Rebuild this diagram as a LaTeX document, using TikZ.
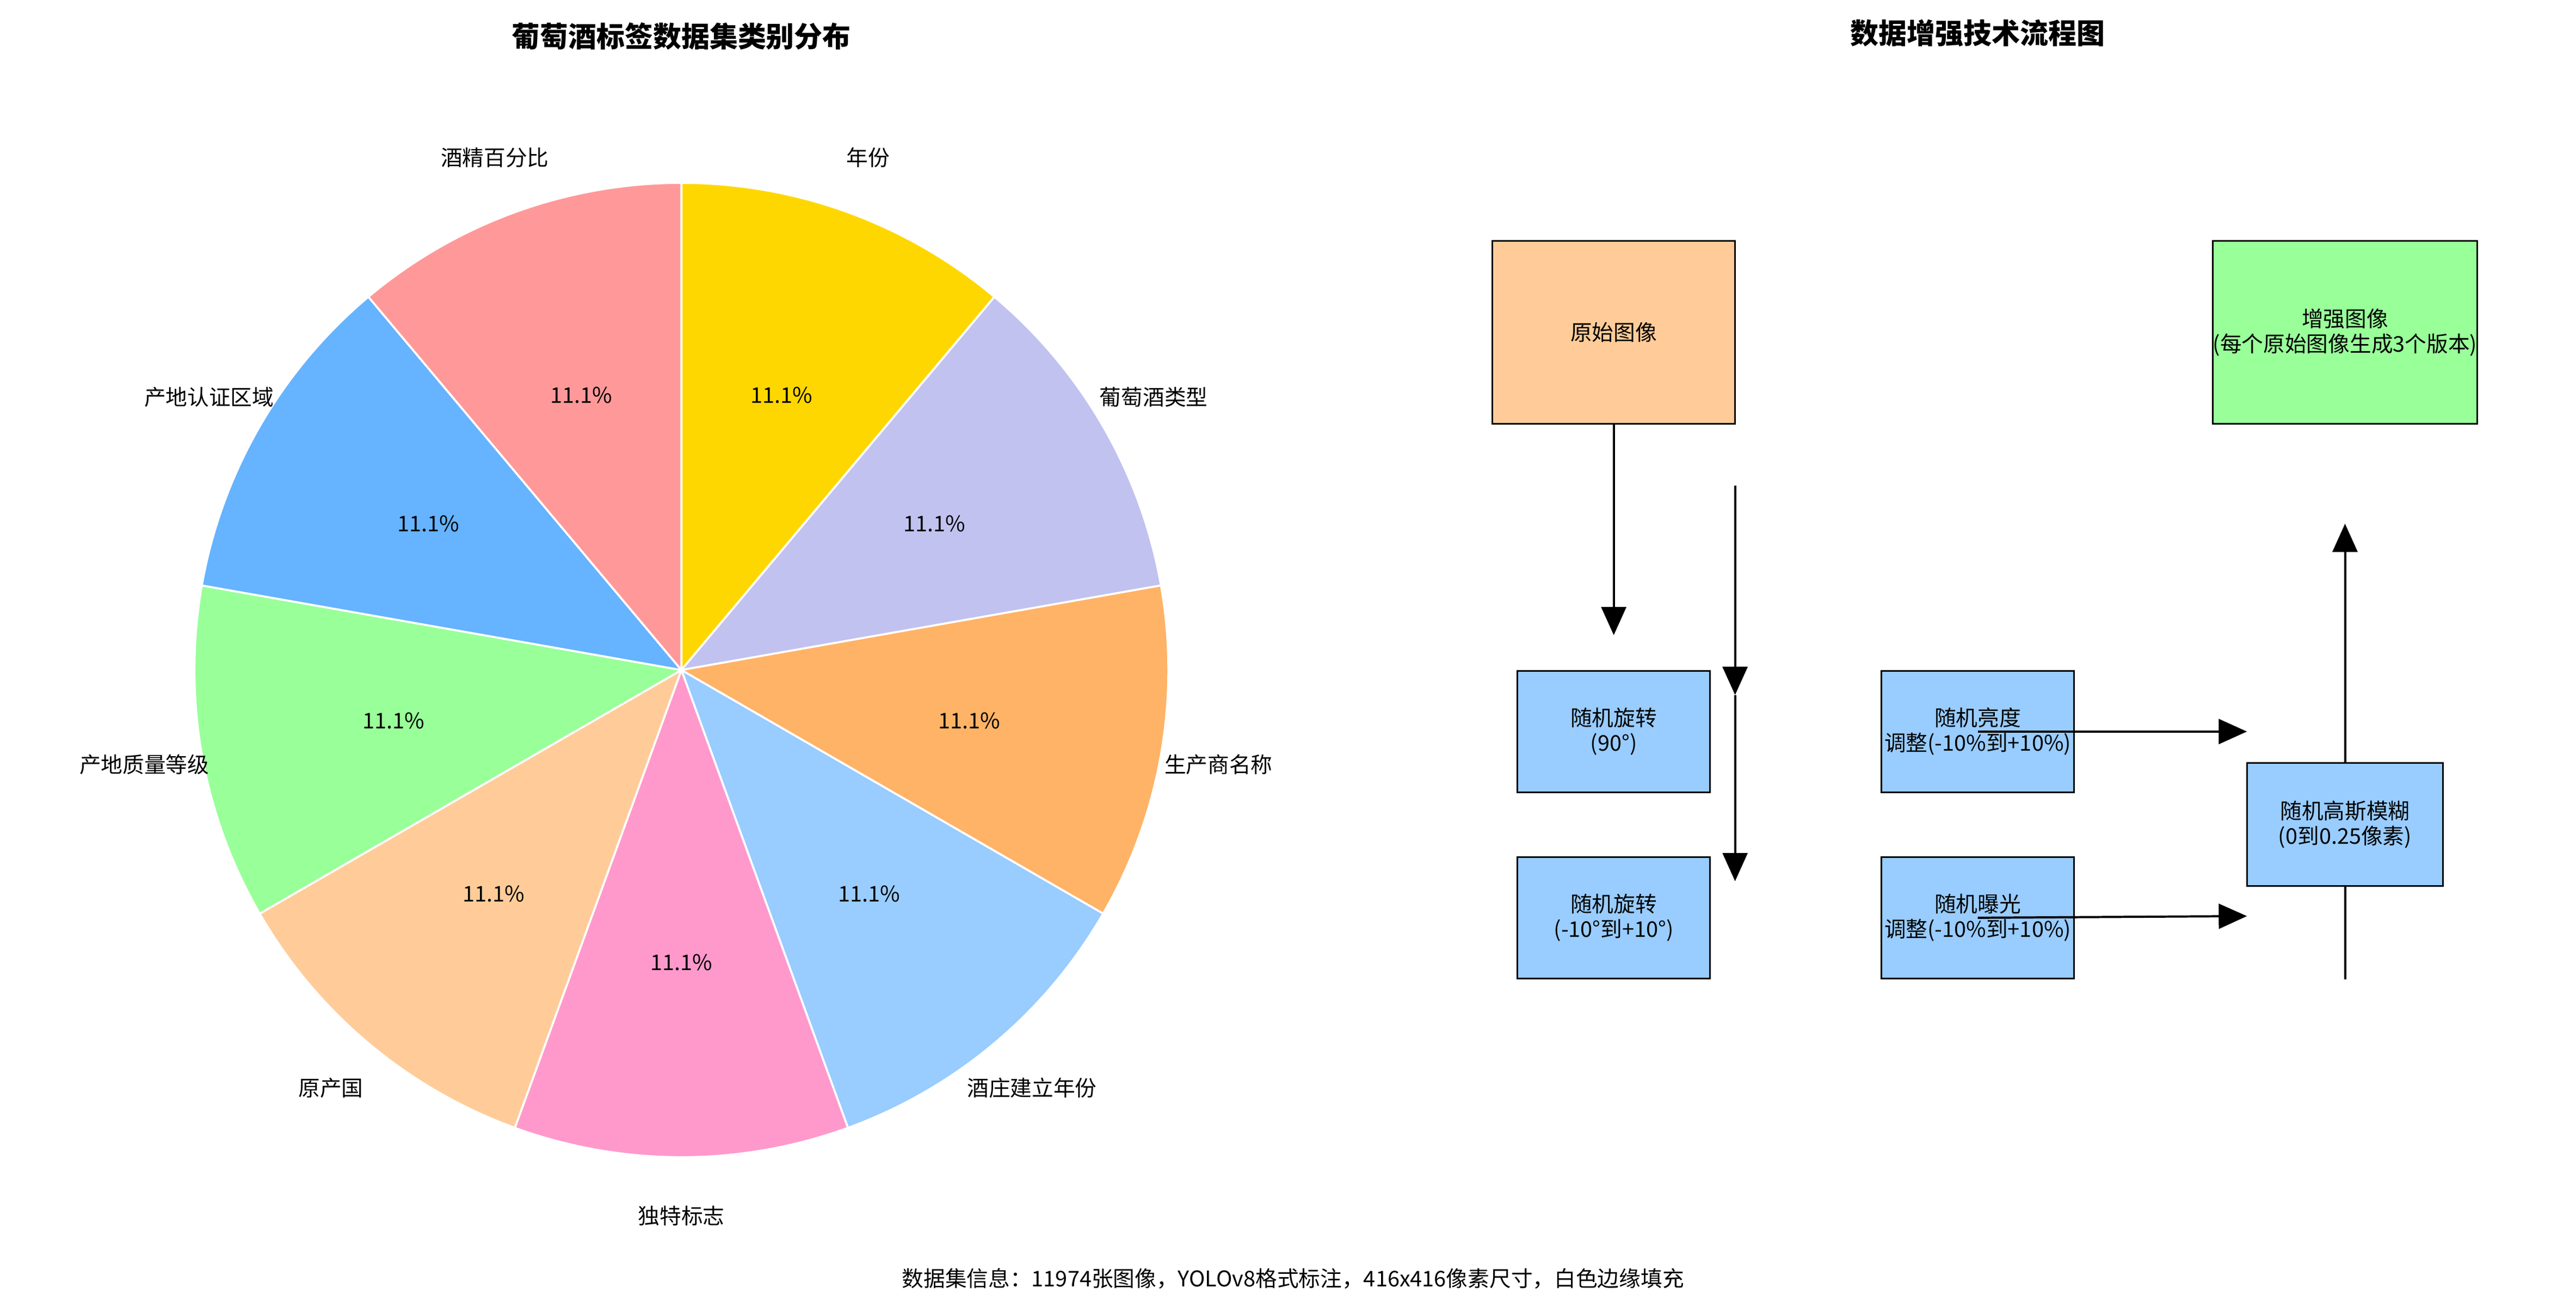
\documentclass[tikz,border=0pt]{standalone}
\usepackage{fontspec}
\setmainfont{Noto Sans CJK SC}
\usetikzlibrary{arrows.meta,calc}
\definecolor{c1}{HTML}{FFD700}\definecolor{c2}{HTML}{C2C2F0}\definecolor{c3}{HTML}{FFB366}
\definecolor{c4}{HTML}{99CCFF}\definecolor{c5}{HTML}{FF99CC}\definecolor{c6}{HTML}{FFCC99}
\definecolor{c7}{HTML}{99FF99}\definecolor{c8}{HTML}{66B3FF}\definecolor{c9}{HTML}{FF9999}
\begin{document}
\begin{tikzpicture}[x=1pt,y=1pt,font=\fontsize{13}{15}\selectfont,
  box/.style={draw=black,line width=1pt,align=center,inner sep=0pt},
  arr/.style={line width=1.3pt,-{Triangle[length=17pt,width=15pt]}}]
\useasboundingbox[fill=white] (0,0) rectangle (1550,778);
\coordinate (c) at (410,375);
\def\R{293}
\foreach \col/\lab [count=\i] in {c1/年份,c2/葡萄酒类型,c3/生产商名称,c4/酒庄建立年份,c5/独特标志,c6/原产国,c7/产地质量等级,c8/产地认证区域,c9/酒精百分比}{
  \pgfmathsetmacro\s{90-40*(\i-1)}
  \pgfmathsetmacro\e{\s-40}
  \pgfmathsetmacro\m{\s-20}
  \filldraw[fill=\col,draw=white,line width=1.2pt] (c) -- ++(\s:\R) arc[start angle=\s,end angle=\e,radius=\R] -- cycle;
  \node (p\i) at ($(c)+(\m:0.6*\R)$) {11.1\%};
  \node (l\i) at ($(c)+(\m:1.12*\R)$) {\lab};
}
\node[font=\fontsize{17}{20}\selectfont\bfseries] (t1) at (410,756) {葡萄酒标签数据集类别分布};
\node[font=\fontsize{17}{20}\selectfont\bfseries] (t2) at (1190,758) {数据增强技术流程图};
\node (info) at (778,9) {数据集信息：11974张图像，YOLOv8格式标注，416x416像素尺寸，白色边缘填充};
% flow
\coordinate (v1) at (1411,189); \coordinate (v2) at (1411,463);
\draw[arr] (v1) -- (v2);
\node[box,fill=c6,minimum width=146pt,minimum height=110pt] (orig) at (971,578) {原始图像};
\node[box,fill=c7,minimum width=146pt,minimum height=110pt] (aug) at (1411,578) {增强图像\\(每个原始图像生成3个版本)};
\node[box,fill=c4,minimum width=116pt,minimum height=73pt] (r90) at (971,338) {随机旋转\\(90°)};
\node[box,fill=c4,minimum width=116pt,minimum height=73pt] (r10) at (971,226) {随机旋转\\(-10°到+10°)};
\node[box,fill=c4,minimum width=116pt,minimum height=73pt] (br) at (1190,338) {随机亮度\\调整(-10\%到+10\%)};
\node[box,fill=c4,minimum width=116pt,minimum height=73pt] (ex) at (1190,226) {随机曝光\\调整(-10\%到+10\%)};
\node[box,fill=c4,minimum width=118pt,minimum height=74pt] (gb) at (1411,282) {随机高斯模糊\\(0到0.25像素)};
\coordinate (a1) at (971,396);
\draw[arr] (orig.south) -- (a1);
\coordinate (b1) at (1044,486); \coordinate (b2) at (1044,360); \coordinate (b3) at (1044,248);
\draw[arr] (b1) -- (b2);
\draw[arr] (b2) -- (b3);
\coordinate (h1) at (1352,338); \coordinate (h2) at (1352,227);
\draw[arr] (br.center) -- (h1);
\draw[arr] (ex.center) -- (h2);
\end{tikzpicture}
\end{document}
